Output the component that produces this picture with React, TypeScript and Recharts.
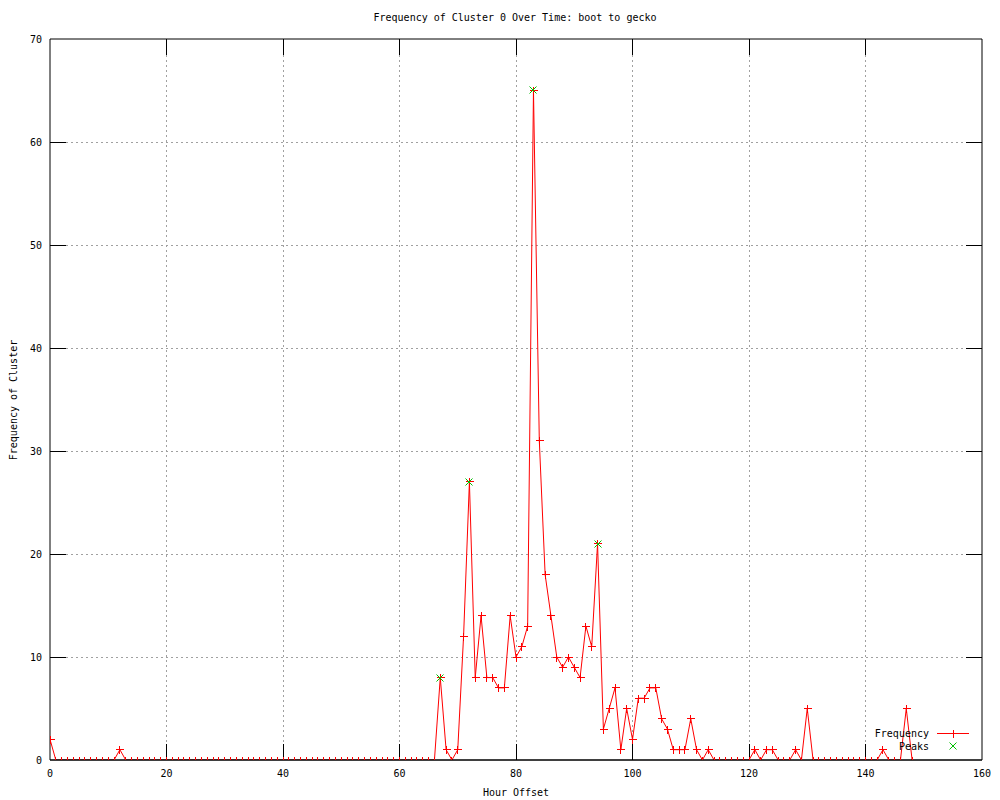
import { ComposedChart, Line, XAxis, YAxis, CartesianGrid, ReferenceLine } from "recharts";

// hourly counts, hour = index (0..148)
const frequency = [
  2, 0, 0, 0, 0, 0, 0, 0, 0, 0, 0, 0, 1, 0, 0, 0, 0, 0, 0, 0,
  0, 0, 0, 0, 0, 0, 0, 0, 0, 0, 0, 0, 0, 0, 0, 0, 0, 0, 0, 0,
  0, 0, 0, 0, 0, 0, 0, 0, 0, 0, 0, 0, 0, 0, 0, 0, 0, 0, 0, 0,
  0, 0, 0, 0, 0, 0, 0, 8, 1, 0, 1, 12, 27, 8, 14, 8, 8, 7, 7, 14,
  10, 11, 13, 65, 31, 18, 14, 10, 9, 10, 9, 8, 13, 11, 21, 3, 5, 7, 1, 5,
  2, 6, 6, 7, 7, 4, 3, 1, 1, 1, 4, 1, 0, 1, 0, 0, 0, 0, 0, 0,
  0, 1, 0, 1, 1, 0, 0, 0, 1, 0, 5, 0, 0, 0, 0, 0, 0, 0, 0, 0,
  0, 0, 0, 1, 0, 0, 0, 5, 0,
];

const peakHours = [67, 72, 83, 94];
const peakValues = [8, 27, 65, 21];

const xTicks = [0, 20, 40, 60, 80, 100, 120, 140, 160];
const yTicks = [0, 10, 20, 30, 40, 50, 60, 70];

const freqData = frequency.map((v, i) => ({ hour: i, value: v }));
const peakData = peakHours.map((h, i) => ({ hour: h, value: peakValues[i] }));

const FONT = "'DejaVu Sans Mono', monospace";
const RED = "#ff0000";
const GREEN = "#00c000";
const TICK = 16;

const px = (v: number) => Math.round(v) + 0.5;

function PlusDot(props: any) {
  const { cx, cy } = props;
  if (cx == null || cy == null) return null;
  const x = px(cx - 0.5);
  const y = px(cy - 0.5);
  return (
    <g shapeRendering="crispEdges">
      <line x1={x - 4} x2={x + 4} y1={y} y2={y} stroke={RED} strokeWidth={1} />
      <line x1={x} x2={x} y1={y - 4} y2={y + 4} stroke={RED} strokeWidth={1} />
    </g>
  );
}

function CrossDot(props: any) {
  const { cx, cy } = props;
  if (cx == null || cy == null) return null;
  const x = Math.round(cx);
  const y = Math.round(cy);
  return (
    <g>
      <line x1={x - 3.5} x2={x + 3.5} y1={y - 3.5} y2={y + 3.5} stroke={GREEN} strokeWidth={1} />
      <line x1={x - 3.5} x2={x + 3.5} y1={y + 3.5} y2={y - 3.5} stroke={GREEN} strokeWidth={1} />
    </g>
  );
}

// gnuplot-style grid: dotted gray, with solid inward tick marks at both ends
function GridLine(props: any) {
  const { x1, y1, x2, y2, index, ticksCount } = props;
  if (index === 0 || index === ticksCount - 1) return null;
  const horizontal = Math.abs(y1 - y2) < 0.5;
  if (horizontal) {
    const y = px(y1 - 0.5);
    const a = Math.min(x1, x2);
    const b = Math.max(x1, x2);
    return (
      <g shapeRendering="crispEdges">
        <line x1={a + TICK} x2={b - TICK} y1={y} y2={y} stroke="#a0a0a0" strokeDasharray="2 3" />
        <line x1={a} x2={a + TICK} y1={y} y2={y} stroke="#000" />
        <line x1={b - TICK} x2={b} y1={y} y2={y} stroke="#000" />
      </g>
    );
  }
  const x = px(x1 - 0.5);
  const a = Math.min(y1, y2);
  const b = Math.max(y1, y2);
  return (
    <g shapeRendering="crispEdges">
      <line x1={x} x2={x} y1={a + TICK} y2={b - TICK} stroke="#a0a0a0" strokeDasharray="2 3" />
      <line x1={x} x2={x} y1={a} y2={a + TICK} stroke="#000" />
      <line x1={x} x2={x} y1={b - TICK} y2={b} stroke="#000" />
    </g>
  );
}

const HGrid = (p: any) => <GridLine {...p} ticksCount={yTicks.length} />;
const VGrid = (p: any) => <GridLine {...p} ticksCount={xTicks.length} />;

const BottomTick = ({ x, y, payload }: any) => (
  <text x={x} y={y + 17} textAnchor="middle" fontSize={10} fontFamily={FONT} fill="#000">
    {payload.value}
  </text>
);

const LeftTick = ({ x, y, payload }: any) => (
  <text x={x - 8} y={y + 3.5} textAnchor="end" fontSize={10} fontFamily={FONT} fill="#000">
    {payload.value}
  </text>
);

function LegendBox() {
  return (
    <svg width={130} height={30} style={{ position: "absolute", left: 860, top: 726 }}>
      <text x={69} y={11} textAnchor="end" fontSize={10} fontFamily={FONT} fill="#000">Frequency</text>
      <line x1={77} x2={109} y1={7.5} y2={7.5} stroke={RED} />
      <PlusDot cx={93} cy={7} />
      <text x={69} y={24} textAnchor="end" fontSize={10} fontFamily={FONT} fill="#000">Peaks</text>
      <CrossDot cx={93} cy={20} />
    </svg>
  );
}

export default function App() {
  return (
    <div style={{ position: "absolute", left: 0, top: 0, width: 1000, height: 800, background: "#fff" }}>
      <div
        style={{
          position: "absolute", left: 0, width: 1000, top: 12, textAlign: "center",
          fontFamily: FONT, fontSize: 10, paddingLeft: 30, boxSizing: "border-box",
        }}
      >
        Frequency of Cluster 0 Over Time: boot to gecko
      </div>
      <div
        style={{
          position: "absolute", left: 13, top: 400, fontFamily: FONT, fontSize: 10,
          transform: "translate(-50%, -50%) rotate(-90deg)", whiteSpace: "nowrap",
        }}
      >
        Frequency of Cluster
      </div>
      <div
        style={{
          position: "absolute", left: 50, width: 932, top: 787, textAlign: "center",
          fontFamily: FONT, fontSize: 10,
        }}
      >
        Hour Offset
      </div>
      <ComposedChart width={1000} height={800} data={freqData} margin={{ top: 0, right: 0, bottom: 0, left: 0 }}>
        <CartesianGrid horizontal={HGrid} vertical={VGrid} />
        <XAxis
          dataKey="hour" type="number" domain={[0, 160]} ticks={xTicks} height={40}
          axisLine={{ stroke: "#000" }} tickLine={false} tickSize={0} tickMargin={0}
          tick={<BottomTick />} interval={0} allowDataOverflow
        />
        <XAxis
          xAxisId="top" dataKey="hour" orientation="top" type="number" domain={[0, 160]} ticks={xTicks} height={39}
          axisLine={{ stroke: "#000" }} tickLine={false} tick={false} allowDataOverflow
        />
        <YAxis
          type="number" domain={[0, 70]} ticks={yTicks} width={50}
          axisLine={{ stroke: "#000" }} tickLine={false} tickSize={0} tickMargin={0}
          tick={<LeftTick />} interval={0} allowDataOverflow
        />
        <YAxis
          yAxisId="right" orientation="right" type="number" domain={[0, 70]} ticks={yTicks} width={18}
          axisLine={{ stroke: "#000" }} tickLine={false} tick={false} allowDataOverflow
        />
        <Line
          type="linear" dataKey="value" stroke={RED} strokeWidth={1}
          dot={<PlusDot />} activeDot={false} isAnimationActive={false}
        />
        <Line
          data={peakData} type="linear" dataKey="value" stroke="none"
          dot={<CrossDot />} activeDot={false} isAnimationActive={false}
        />
        <ReferenceLine y={0} stroke="#000" />
      </ComposedChart>
      <LegendBox />
    </div>
  );
}
